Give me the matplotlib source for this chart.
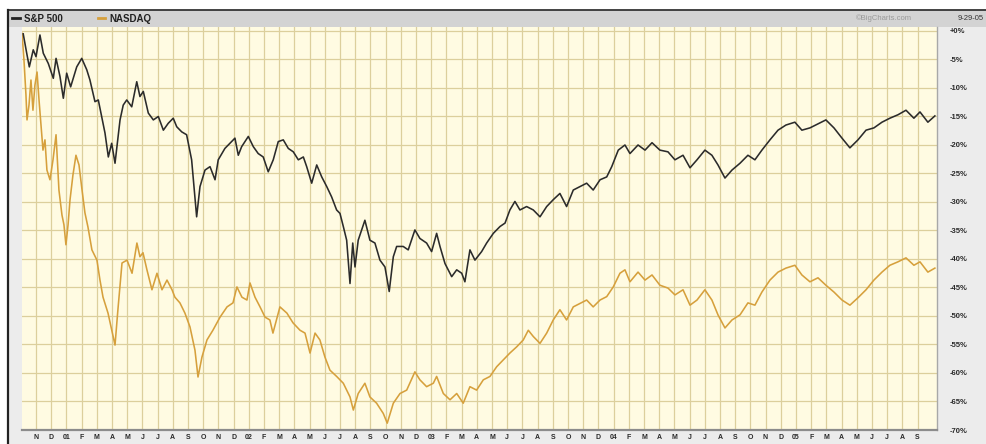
import matplotlib.pyplot as plt
from matplotlib.patches import Rectangle
from matplotlib.lines import Line2D

plt.rcParams['font.family'] = ['Liberation Sans', 'DejaVu Sans']

# months since Nov 1 2000 (fractional) and % change since start
sp_x = [-0.84, -0.61, -0.44, -0.18, 0.00, 0.26, 0.48, 0.81, 1.14, 1.32, 1.58, 1.80, 2.02, 2.28, 2.68,
        3.01, 3.34, 3.55, 3.88, 4.10, 4.32, 4.54, 4.76, 4.98, 5.20, 5.53, 5.74, 5.97, 6.30, 6.63,
        6.84, 7.06, 7.39, 7.72, 8.05, 8.38, 8.70, 9.03, 9.26, 9.59, 9.91, 10.24, 10.57, 10.79, 11.12,
        11.45, 11.78, 11.99, 12.43, 12.76, 13.09, 13.31, 13.53, 13.97, 14.30, 14.62, 14.95, 15.28,
        15.61, 15.94, 16.27, 16.60, 16.93, 17.26, 17.59, 17.81, 18.14, 18.47, 18.80, 19.13, 19.45,
        19.78, 20.00, 20.22, 20.44, 20.66, 20.84, 20.99, 21.20, 21.64, 21.97, 22.30, 22.63, 22.96,
        23.24, 23.51, 23.73, 24.16, 24.49, 24.93, 25.26, 25.70, 26.03, 26.36, 26.58, 26.91, 27.35,
        27.68, 28.01, 28.22, 28.55, 28.88, 29.32, 29.65, 30.09, 30.53, 30.86, 31.18, 31.51, 31.84,
        32.28, 32.72, 33.16, 33.60, 34.03, 34.47, 34.91, 35.35, 35.79, 36.23, 36.66, 37.11, 37.55,
        37.88, 38.31, 38.75, 39.08, 39.61, 40.07, 40.53, 41.05, 41.58, 42.04, 42.57, 43.03, 43.49,
        44.01, 44.47, 44.87, 45.33, 45.79, 46.32, 46.84, 47.30, 47.76, 48.29, 48.82, 49.34, 49.93,
        50.39, 50.92, 51.45, 51.97, 52.50, 53.03, 53.55, 54.08, 54.61, 55.13, 55.66, 56.18, 56.71,
        57.24, 57.76, 58.16, 58.68, 59.14]
sp_y = [-0.5, -3.9, -6.3, -3.3, -4.5, -0.7, -3.9, -5.7, -8.3, -4.8, -8.0, -11.8, -7.4, -9.8, -6.3,
        -4.8, -6.8, -8.6, -12.4, -12.1, -15.0, -17.9, -22.1, -19.7, -23.2, -15.6, -13.0, -12.1, -13.3, -8.9,
        -11.5, -10.6, -14.4, -15.6, -15.0, -17.4, -16.2, -15.3, -16.8, -17.7, -18.2, -22.6, -32.6, -27.3, -24.4,
        -23.8, -26.1, -22.6, -20.6, -19.7, -18.8, -21.8, -20.3, -18.5, -20.3, -21.5, -22.1, -24.7,
        -22.6, -19.4, -19.1, -20.6, -21.2, -22.6, -22.1, -23.8, -26.7, -23.5, -25.6, -27.3, -29.1,
        -31.4, -32.0, -34.3, -36.7, -44.3, -37.2, -41.4, -36.7, -33.2, -36.7, -37.2, -40.2, -41.4,
        -45.7, -39.6, -37.8, -37.8, -38.4, -34.9, -36.4, -37.2, -38.7, -35.5, -37.8, -40.8, -43.1,
        -41.9, -42.5, -44.0, -38.4, -40.2, -38.7, -37.2, -35.5, -34.3, -33.7, -31.4, -29.9, -31.4,
        -30.8, -31.4, -32.6, -30.8, -29.6, -28.5, -30.8, -27.9, -27.3, -26.7, -27.9, -26.1, -25.6,
        -23.8, -20.9, -20.0, -21.5, -20.0, -20.9, -19.6, -20.9, -21.2, -22.6, -21.8, -24.0, -22.6,
        -20.9, -21.8, -23.5, -25.8, -24.4, -23.2, -21.8, -22.6, -20.9, -19.1, -17.4, -16.5, -16.0,
        -17.4, -17.0, -16.3, -15.6, -17.0, -18.8, -20.5, -19.1, -17.4, -17.0, -16.0, -15.3, -14.7,
        -13.9, -15.3, -14.2, -16.0, -14.9]

nq_x = [-0.92, -0.79, -0.66, -0.59, -0.46, -0.33, -0.20, -0.07, 0.07, 0.20, 0.33, 0.46, 0.59, 0.72,
        0.92, 1.12, 1.32, 1.51, 1.71, 1.84, 1.97, 2.11, 2.24, 2.43, 2.63, 2.83, 3.03, 3.22, 3.42, 3.68,
        4.01, 4.21, 4.41, 4.74, 5.20, 5.39, 5.66, 5.99, 6.32, 6.64, 6.84, 7.04, 7.30, 7.63, 7.96, 8.29,
        8.62, 8.95, 9.14, 9.47, 9.80, 10.13, 10.46, 10.66, 10.92, 11.25, 11.64, 12.11, 12.57, 12.96,
        13.22, 13.55, 13.88, 14.08, 14.41, 14.74, 15.07, 15.39, 15.59, 16.05, 16.51, 16.91, 17.37,
        17.70, 18.03, 18.36, 18.68, 19.01, 19.34, 19.78, 20.22, 20.66, 20.88, 21.20, 21.64, 21.97,
        22.41, 22.85, 23.11, 23.51, 23.95, 24.39, 24.93, 25.26, 25.70, 26.14, 26.36, 26.80, 27.24,
        27.68, 28.11, 28.55, 28.99, 29.43, 29.87, 30.31, 30.74, 31.18, 31.63, 32.06, 32.39, 32.72,
        33.16, 33.60, 34.03, 34.47, 34.91, 35.35, 35.79, 36.23, 36.66, 37.11, 37.55, 37.98, 38.42,
        38.75, 39.08, 39.61, 40.07, 40.53, 41.05, 41.58, 42.04, 42.57, 43.03, 43.49, 44.01, 44.47,
        44.87, 45.33, 45.79, 46.32, 46.84, 47.30, 47.76, 48.29, 48.82, 49.34, 49.93, 50.39, 50.92,
        51.45, 51.97, 52.50, 53.03, 53.55, 54.08, 54.61, 55.13, 55.66, 56.18, 56.71, 57.24, 57.76,
        58.16, 58.68, 59.14]
nq_y = [-0.4, -5.1, -11.2, -15.6, -13.0, -8.6, -13.9, -9.5, -7.2, -12.1, -16.5, -20.9, -19.1, -24.4,
        -26.1, -22.6, -18.2, -27.9, -32.3, -34.0, -37.5, -34.0, -29.6, -25.3, -21.8, -23.5, -27.9, -31.9, -34.4, -38.4,
        -40.2, -43.7, -46.7, -49.5, -55.1, -48.9, -40.7, -40.2, -42.5, -37.2, -39.6, -38.9, -41.9, -45.4, -42.5, -45.4,
        -43.7, -45.4, -46.7, -47.7, -49.5, -51.9, -56.0, -60.7, -57.2, -54.2, -52.5, -50.2, -48.4, -47.7,
        -44.9, -46.7, -47.2, -44.2, -46.7, -48.4, -50.2, -50.7, -53.0, -48.4, -49.5, -51.2, -52.5,
        -53.0, -56.5, -53.0, -54.2, -57.2, -59.5, -60.6, -61.8, -64.2, -66.5, -63.6, -61.8, -64.2,
        -65.3, -67.1, -68.8, -65.3, -63.6, -63.0, -59.8, -61.2, -62.4, -61.8, -60.6, -63.6, -64.7,
        -63.6, -65.3, -62.4, -63.0, -61.2, -60.6, -58.9, -57.7, -56.5, -55.4, -54.2, -52.5, -53.6,
        -54.8, -53.0, -50.7, -48.9, -50.7, -48.4, -47.8, -47.2, -48.4, -47.2, -46.6, -44.9, -42.5,
        -41.9, -44.0, -42.3, -43.7, -42.8, -44.6, -45.1, -46.3, -45.4, -48.1, -47.2, -45.4, -47.2,
        -49.8, -52.1, -50.7, -49.8, -47.7, -48.1, -45.8, -43.7, -42.3, -41.6, -41.1, -42.8, -44.0,
        -43.3, -44.6, -45.8, -47.2, -48.1, -46.8, -45.4, -43.7, -42.3, -41.1, -40.5, -39.8, -41.1,
        -40.5, -42.3, -41.6]

month_labels = ['N', 'D',
                '01', 'F', 'M', 'A', 'M', 'J', 'J', 'A', 'S', 'O', 'N', 'D',
                '02', 'F', 'M', 'A', 'M', 'J', 'J', 'A', 'S', 'O', 'N', 'D',
                '03', 'F', 'M', 'A', 'M', 'J', 'J', 'A', 'S', 'O', 'N', 'D',
                '04', 'F', 'M', 'A', 'M', 'J', 'J', 'A', 'S', 'O', 'N', 'D',
                '05', 'F', 'M', 'A', 'M', 'J', 'J', 'A', 'S']
pct_ticks = [0, -5, -10, -15, -20, -25, -30, -35, -40, -45, -50, -55, -60, -65, -70]
pct_labels = ['+0%'] + ['%d%%' % t for t in pct_ticks[1:]]

W, H = 987, 444
fig = plt.figure(figsize=(W / 100, H / 100), dpi=100)
fig.patch.set_facecolor('white')

# frame, header band and borders (behind the axes)
fig.patches.append(Rectangle((8 / W, 0), 1 - 8 / W, (H - 10) / H, transform=fig.transFigure,
                             facecolor='#ececec', edgecolor='none', zorder=-10))
fig.patches.append(Rectangle((8 / W, 1 - 27 / H), 1 - 8 / W, 16 / H, transform=fig.transFigure,
                             facecolor='#d3d3d3', edgecolor='none', zorder=-9))
fig.lines.append(Line2D([8 / W, 1], [1 - 10 / H, 1 - 10 / H], transform=fig.transFigure,
                        color='#222222', lw=1.2, zorder=-8))
fig.lines.append(Line2D([8 / W, 8 / W], [0, 1 - 10 / H], transform=fig.transFigure,
                        color='#222222', lw=1.6, zorder=-8))

ax = fig.add_axes([22 / W, 1 - 430 / H, (937 - 22) / W, (430 - 27) / H])
ax.set_zorder(1)
ax.set_facecolor('#fffbe2')

ax.plot(nq_x, nq_y, color='#d6a03c', lw=1.15, zorder=3)
ax.plot(sp_x, sp_y, color='#2b2b2b', lw=1.15, zorder=4)

ax.set_xlim(-0.92, 59.28)
ax.set_ylim(-70, 0.7)

ax.set_xticks(range(len(month_labels)))
ax.set_xticklabels(month_labels, fontsize=5, color='#2a2a2a', fontweight='bold')
ax.set_yticks(pct_ticks)
ax.set_yticklabels(pct_labels, fontsize=5.5, color='#2a2a2a', fontweight='bold')
ax.yaxis.tick_right()
ax.tick_params(axis='both', length=0)
ax.tick_params(axis='y', pad=9)
ax.tick_params(axis='x', pad=3)
for lab in ax.get_yticklabels():
    lab.set_horizontalalignment('left')

ax.grid(True, color='#dccf9c', lw=0.9)
ax.set_axisbelow(True)
for s in ['top', 'left']:
    ax.spines[s].set_visible(False)
ax.spines['bottom'].set_color('#8c8c8c')
ax.spines['bottom'].set_linewidth(1.6)
ax.spines['right'].set_color('#a8a8a8')
ax.spines['right'].set_linewidth(1.0)

# header texts
hy = 1 - 18.5 / H
fig.lines.append(Line2D([12 / W, 20 / W], [hy, hy], transform=fig.transFigure, color='#222222', lw=2))
fig.text(24 / W, hy, 'S&P 500', fontsize=7, fontweight='bold', color='#222222', va='center')
fig.lines.append(Line2D([98 / W, 105 / W], [hy, hy], transform=fig.transFigure, color='#d6a03c', lw=2))
fig.text(109 / W, hy, 'NASDAQ', fontsize=7, fontweight='bold', color='#222222', va='center')
fig.text(912 / W, hy, '©BigCharts.com', fontsize=5.5, color='#9a9a9a', va='center', ha='right')
fig.text(984 / W, hy, '9-29-05', fontsize=5.5, color='#333333', va='center', ha='right')

fig.savefig('out.png', dpi=100, facecolor=fig.get_facecolor())
